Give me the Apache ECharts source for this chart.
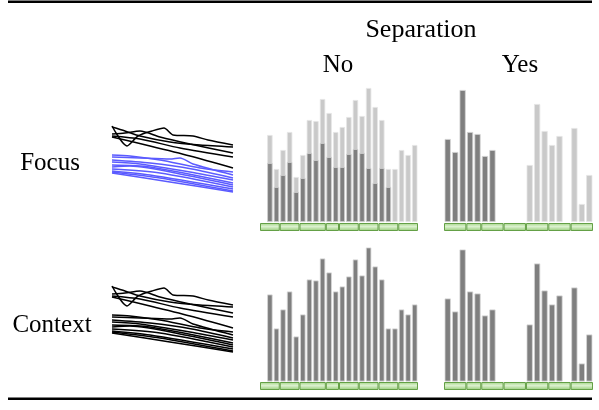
<!DOCTYPE html>
<html>
<head>
<meta charset="utf-8">
<script src="https://cdn.jsdelivr.net/npm/echarts@6/dist/echarts.min.js"></script>
<style>
html,body{margin:0;padding:0;background:#fff;}
#main{width:599px;height:410px;}
</style>
</head>
<body>
<div id="main"></div>
<script>
// 折线 (x = 位置, y = 高度)
var blackLines = [
    [[0,74],[15,54],[26,64],[40,69],[52,72],[61,65],[81,64],[96,60],[121,55]],
    [[0,73],[13,69],[28,64],[58,58],[88,55],[121,53]],
    [[0,66],[13,67],[28,69],[48,63],[78,56],[121,47]],
    [[0,64],[28,61],[68,52],[121,43]],
    [[0,63],[38,54],[78,44],[121,32]]
];
var blueLines = [
    [[0,45],[18,44],[48,40],[88,32],[121,28]],
    [[0,43],[28,42],[58,41],[68,42],[81,36],[121,25]],
    [[0,40],[38,37],[80,31],[121,22]],
    [[0,38],[28,36],[78,28],[121,20]],
    [[0,35],[38,33],[121,17]],
    [[0,33],[18,34],[78,24],[121,15]],
    [[0,31],[48,27],[121,13]],
    [[0,29],[38,25],[121,11]],
    [[0,28],[48,22],[121,9]],
    [[0,27],[58,18],[121,8]]
];

// 柱状图 Separation = No  ('-' = 无柱)
var noCats = ['0','1','2','3','4','5','6','7','8','9','10','11','12','13','14','15','16','17','18','19','20','21','22','23'];
var noTotal = ['-',87,53,72,90,45,67,102,101,123,109,90,95,105,122,106,134,115,102,53,53,72,67,77];
var noDark = ['-',59,35,47,60,30,44,69,62,79,65,55,55,68,73,69,54,39,54,35,'-','-','-','-'];
var noGroups = [3,3,4,2,3,3,3,3];

// 柱状图 Separation = Yes
var yesCats = ['0','1','2','3','4','5','6','7','8','9','10','11','12','13','14','15','16','17','18','19'];
var yesDark = [83,70,132,90,88,66,72,'-','-','-','-','-','-','-','-','-','-','-','-','-'];
var yesLight = ['-','-','-','-','-','-','-','-','-','-','-',57,118,91,77,86,'-',94,18,47];
var yesGroups = [3,2,3,3,3,3,3];

var serif = '"Liberation Serif", "DejaVu Serif", serif';
var darkStyle = {color:'#7f7f7f', borderColor:'#d6d6d6', borderWidth:0.8};
var lightStyle = {color:'#c9c9c9', borderColor:'#e6e6e6', borderWidth:0.8};
var greenFill = new echarts.graphic.LinearGradient(0,0,0,1,[
    {offset:0, color:'#a2d486'},
    {offset:0.45, color:'#dcf1cf'},
    {offset:1, color:'#94ca76'}
]);

var grids = [
    {left:112, top:120, width:121, height:80},   // 0 Focus 折线
    {left:112, top:280, width:121, height:80},   // 1 Context 折线
    {left:260, top:82, width:158, height:140},   // 2 Focus No
    {left:444, top:82, width:149, height:140},   // 3 Focus Yes
    {left:260, top:241.5, width:158, height:140},// 4 Context No
    {left:444, top:241.5, width:149, height:140},// 5 Context Yes
    {left:260, top:223, width:158, height:8},    // 6 绿色条
    {left:444, top:223, width:149, height:8},    // 7
    {left:260, top:382, width:158, height:8},    // 8
    {left:444, top:382, width:149, height:8}     // 9
];

var xAxes = [], yAxes = [];
function hid(o){ o.show = false; return o; }
xAxes.push(hid({type:'value', gridIndex:0, min:0, max:121}));
xAxes.push(hid({type:'value', gridIndex:1, min:0, max:121}));
xAxes.push(hid({type:'category', gridIndex:2, data:noCats}));
xAxes.push(hid({type:'category', gridIndex:3, data:yesCats}));
xAxes.push(hid({type:'category', gridIndex:4, data:noCats}));
xAxes.push(hid({type:'category', gridIndex:5, data:yesCats}));
xAxes.push(hid({type:'value', gridIndex:6, min:0, max:24}));
xAxes.push(hid({type:'value', gridIndex:7, min:0, max:20}));
xAxes.push(hid({type:'value', gridIndex:8, min:0, max:24}));
xAxes.push(hid({type:'value', gridIndex:9, min:0, max:20}));
for (var g = 0; g < 2; g++) yAxes.push(hid({type:'value', gridIndex:g, min:0, max:80}));
for (var g = 2; g < 6; g++) yAxes.push(hid({type:'value', gridIndex:g, min:0, max:140}));
for (var g = 6; g < 10; g++) yAxes.push(hid({type:'category', gridIndex:g, data:['s']}));

var series = [];
function addLine(idx, d, color){
    series.push({type:'line', xAxisIndex:idx, yAxisIndex:idx, data:d, symbol:'none', smooth:0.25,
        lineStyle:{color:color, width:1.5}, silent:true});
}
blackLines.forEach(function(d){ addLine(0, d, '#000'); });
blueLines.forEach(function(d){ addLine(0, d, '#5b5bff'); });
blackLines.forEach(function(d){ addLine(1, d, '#000'); });
blueLines.forEach(function(d){ addLine(1, d, '#000'); });

// Focus No: 浅色总量 + 深色部分叠加
series.push({type:'bar', xAxisIndex:2, yAxisIndex:2, data:noTotal, barWidth:5.4, itemStyle:lightStyle});
series.push({type:'bar', xAxisIndex:2, yAxisIndex:2, data:noDark, barWidth:5.4, barGap:'-100%', itemStyle:darkStyle});
// Focus Yes
series.push({type:'bar', xAxisIndex:3, yAxisIndex:3, data:yesDark, barWidth:6.2, itemStyle:darkStyle});
series.push({type:'bar', xAxisIndex:3, yAxisIndex:3, data:yesLight, barWidth:6.2, barGap:'-100%', itemStyle:lightStyle});
// Context 全部深色
series.push({type:'bar', xAxisIndex:4, yAxisIndex:4, data:noTotal, barWidth:5.4, itemStyle:darkStyle});
series.push({type:'bar', xAxisIndex:5, yAxisIndex:5, data:yesDark, barWidth:6.2, itemStyle:darkStyle});
series.push({type:'bar', xAxisIndex:5, yAxisIndex:5, data:yesLight, barWidth:6.2, barGap:'-100%', itemStyle:darkStyle});

// 绿色分段条
function addStrip(idx, groups){
    groups.forEach(function(n){
        series.push({type:'bar', xAxisIndex:idx, yAxisIndex:idx, stack:'strip' + idx, data:[n],
            barWidth:'100%', itemStyle:{color:greenFill, borderColor:'#64a046', borderWidth:1}});
    });
}
addStrip(6, noGroups);
addStrip(7, yesGroups);
addStrip(8, noGroups);
addStrip(9, yesGroups);

function txt(s, x, y, size){
    return {type:'text', x:x, y:y, style:{text:s, fill:'#000', font:(size || 25) + 'px ' + serif,
        textAlign:'center', textVerticalAlign:'middle'}};
}

option = {
    backgroundColor:'#fff',
    animation:false,
    grid:grids,
    xAxis:xAxes,
    yAxis:yAxes,
    series:series,
    graphic:[
        {type:'rect', shape:{x:8, y:0.5, width:584, height:2.5}, style:{fill:'#000'}},
        {type:'rect', shape:{x:8, y:397.5, width:584, height:2.5}, style:{fill:'#000'}},
        txt('Separation', 421, 30, 26),
        txt('No', 338, 65),
        txt('Yes', 520, 65),
        txt('Focus', 50, 163),
        txt('Context', 52, 325)
    ]
};

var myChart = echarts.init(document.getElementById('main'));
myChart.setOption(option, true);
</script>
</body>
</html>
